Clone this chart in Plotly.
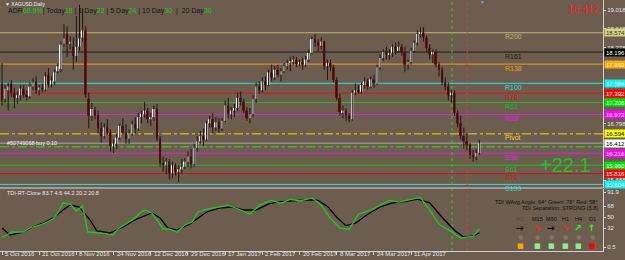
import plotly.graph_objects as go

# ---------------- data ----------------
opens = [17.58,17.28,17.45,17.58,17.40,17.30,17.35,17.48,17.36,17.33,17.52,17.62,17.45,17.50,17.46,17.74,17.56,17.62,17.82,17.86,
         18.36,18.55,18.36,18.30,18.12,18.30,18.48,18.62,17.28,16.95,17.05,16.96,16.70,16.55,16.72,16.62,16.35,16.40,16.52,16.75,
         16.62,16.50,16.60,16.78,16.70,16.92,16.98,17.05,16.88,16.92,17.08,16.50,16.02,15.98,16.05,15.82,15.98,15.85,15.90,15.95,
         16.05,16.15,16.00,16.32,16.45,16.55,16.48,16.80,16.88,16.72,16.82,16.70,16.85,17.15,16.98,17.05,17.10,17.30,17.22,17.05,
         16.90,16.98,17.28,17.52,17.45,17.62,17.55,17.80,17.70,17.85,17.75,17.82,17.92,17.98,18.02,18.05,17.96,18.00,17.95,18.05,
         18.18,18.45,18.38,18.32,18.40,17.92,17.98,17.90,17.65,17.30,17.02,17.05,16.95,16.88,17.40,17.45,17.42,17.55,17.62,17.52,
         17.66,17.58,17.90,18.08,18.20,18.15,18.18,18.30,18.22,18.30,18.18,17.95,18.00,18.22,18.38,18.55,18.58,18.48,18.28,18.15,
         18.20,17.95,17.85,17.60,17.52,17.35,17.40,17.00,16.80,16.55,16.45,16.38,16.18,16.15,16.22]
highs = [17.98,17.55,17.60,17.65,17.50,17.42,17.55,17.55,17.45,17.60,17.68,17.72,17.55,17.58,17.80,17.88,17.72,17.86,17.98,18.40,
         18.75,18.70,18.50,18.48,18.90,19.12,19.05,18.70,17.40,17.20,17.12,17.05,16.82,16.80,16.88,16.68,16.48,16.60,16.80,16.90,
         16.78,16.68,16.85,16.92,17.00,17.05,17.22,17.10,17.00,17.15,17.18,16.55,16.15,16.12,16.10,16.05,16.02,15.98,16.10,16.12,
         16.25,16.30,16.40,16.55,16.65,16.70,16.85,16.95,17.00,16.92,16.90,16.90,17.25,17.30,17.12,17.18,17.40,17.42,17.28,17.12,
         17.10,17.35,17.60,17.62,17.70,17.72,17.85,17.95,17.92,17.95,17.88,17.98,18.05,18.10,18.12,18.10,18.05,18.08,18.12,18.25,
         18.50,18.55,18.45,18.48,18.42,18.05,18.05,17.95,17.70,17.38,17.15,17.10,17.00,17.45,17.58,17.55,17.60,17.70,17.68,17.72,
         17.75,17.95,18.15,18.25,18.30,18.25,18.35,18.38,18.40,18.35,18.30,18.05,18.28,18.42,18.62,18.68,18.68,18.52,18.35,18.25,
         18.25,18.00,17.90,17.70,17.60,17.45,17.45,17.05,16.95,16.72,16.60,16.42,16.28,16.30,16.48]
lows = [17.15,17.20,17.05,17.32,17.10,17.18,17.25,17.30,17.25,17.28,17.45,17.38,17.35,17.40,17.42,17.50,17.50,17.55,17.78,17.80,
        18.30,18.10,18.25,17.85,18.00,18.22,18.40,17.30,16.70,16.85,16.88,16.60,16.42,16.50,16.58,16.25,16.22,16.30,16.48,16.58,
        16.40,16.40,16.55,16.60,16.65,16.80,16.90,16.80,16.75,16.85,16.45,15.95,15.85,15.80,15.70,15.72,15.78,15.65,15.82,15.90,
        15.95,15.92,15.95,16.25,16.40,16.35,16.45,16.72,16.60,16.65,16.62,16.65,16.82,16.90,16.88,16.92,17.05,17.15,17.00,16.85,
        16.80,16.92,17.20,17.38,17.40,17.45,17.52,17.62,17.65,17.70,17.62,17.78,17.85,17.82,17.95,17.90,17.92,17.85,17.90,18.00,
        18.15,18.30,18.20,18.25,17.85,17.65,17.82,17.60,17.25,16.95,16.90,16.85,16.82,16.85,17.35,17.38,17.38,17.48,17.45,17.48,
        17.50,17.55,17.85,18.02,18.05,18.05,18.10,18.15,18.18,18.12,17.80,17.85,17.95,18.18,18.32,18.48,18.40,18.20,18.05,17.98,
        17.90,17.72,17.55,17.45,17.25,17.20,16.95,16.72,16.48,16.30,16.28,16.10,16.05,16.08,16.18]
closes = [17.25,17.48,17.52,17.40,17.30,17.35,17.48,17.36,17.33,17.52,17.60,17.45,17.50,17.46,17.72,17.56,17.64,17.80,17.92,18.34,
          18.46,18.35,18.40,18.12,18.30,18.46,18.62,17.36,16.95,17.08,16.96,16.70,16.55,16.72,16.62,16.35,16.40,16.52,16.75,16.62,
          16.50,16.60,16.78,16.70,16.92,16.98,17.05,16.88,16.92,17.08,16.50,16.02,15.98,16.05,15.82,15.98,15.85,15.90,15.95,16.05,
          16.15,16.00,16.32,16.45,16.55,16.48,16.80,16.88,16.72,16.82,16.70,16.85,17.15,16.98,17.05,17.10,17.30,17.22,17.05,16.90,
          16.98,17.28,17.52,17.45,17.62,17.55,17.80,17.70,17.85,17.75,17.82,17.92,17.98,18.02,18.05,17.96,18.00,17.95,18.05,18.18,
          18.45,18.38,18.32,18.40,17.92,17.98,17.90,17.65,17.30,17.02,17.05,16.95,16.88,17.40,17.45,17.42,17.55,17.62,17.52,17.66,
          17.58,17.90,18.08,18.20,18.15,18.18,18.30,18.22,18.30,18.18,17.95,18.00,18.22,18.38,18.55,18.58,18.48,18.28,18.15,18.20,
          17.95,17.85,17.60,17.52,17.35,17.40,17.00,16.80,16.55,16.45,16.38,16.18,16.15,16.22,16.41]

date_tick_bars = [0, 12, 24, 36, 48, 60, 72, 84, 96, 108, 120, 132]
date_tick_labels = ["5 Oct 2016", "21 Oct 2016", "8 Nov 2016", "24 Nov 2016", "12 Dec 2016", "29 Dec 2016",
                    "17 Jan 2017", "2 Feb 2017", "20 Feb 2017", "8 Mar 2017", "24 Mar 2017", "11 Apr 2017"]

price_ticks = [19.018, 18.648, 18.278, 16.798, 15.688]

level_names = ["R200", "R161", "R138", "R100", "R78", "R61", "R38", "Pivot", "S38", "S61", "S78", "S100"]
level_values = [18.574, 18.196, 17.960, 17.584, 17.392, 17.206, 16.972, 16.594, 16.216, 15.980, 15.816, 15.604]
level_colors = ["#c2b86a", "#1e1a14", "#f0a020", "#30dcdc", "#d81818", "#20c020", "#e020e0", "#e8d820",
                "#e020e0", "#20c020", "#c81818", "#30dcdc"]
level_box_colors = ["#d6cf86", "#000000", "#ffa500", "#10f0f0", "#ff0000", "#00e000", "#ff00ff", "#ffff00",
                    "#ff00ff", "#00e000", "#ff0000", "#10f0f0"]
level_box_text = ["#333333", "#ffffff", "#ffffff", "#ffffff", "#ffffff", "#ffffff", "#ffffff", "#000000",
                  "#ffffff", "#ffffff", "#ffffff", "#ffffff"]

bid_price = 16.412
order_price = 16.34
order_label = "#50749068 buy 0.10"
marker_bars = [145.2, 150.1]

tdi_green_bars = [0, 1.6, 3.2, 6.8, 9, 12.3, 14.5, 16.5, 18, 19.7, 22, 24, 26, 27.7, 31.6, 35.8, 37.4, 40.6, 42.9, 44.5,
                  46, 48.4, 50.3, 52, 54, 56.5, 59, 61.3, 63.2, 66.5, 70, 73, 77, 80, 83, 87, 90, 93, 96, 100,
                  103, 106, 109, 112, 115, 119, 122, 125, 128, 132, 135, 138, 141, 145, 148, 150, 152, 154]
tdi_green_vals = [17.1, 20.4, 25.4, 25.4, 32.1, 37.1, 42.0, 47.0, 57.0, 73.6, 72.0, 60.3, 68.6, 25.4, 23.8, 20.4, 30.4, 40.4, 48.7, 57.0,
                  62.0, 57.0, 42.0, 30.4, 30.4, 25.4, 37.1, 42.0, 58.7, 63.7, 67, 70, 62, 55, 70, 78, 73, 80, 77, 82,
                  70, 48, 32, 30, 55, 62, 70, 78, 75, 80, 83, 62, 38, 26, 15, 17, 18, 31]
tdi_black_bars = [0, 2.6, 6.8, 10, 13.2, 16.5, 19.7, 22, 25, 28.4, 30.6, 34.8, 39, 43.5, 48.4, 51, 53.5, 56.5, 60.6, 66,
                  70, 74, 78, 82, 86, 90, 94, 98, 102, 105, 108, 111, 114, 118, 122, 126, 130, 134, 138, 142, 146, 149, 152, 154]
tdi_black_vals = [32.1, 20.4, 25.4, 33.7, 40.4, 48.7, 62.0, 70.3, 67.0, 45.4, 27.1, 23.8, 33.7, 47.0, 57.0, 48.7, 32.1, 28.7, 38.7, 58.7,
                  65, 67, 62, 62, 72, 76, 77, 79, 78, 68, 50, 36, 40, 55, 67, 74, 76, 80, 74, 50, 28, 17, 19, 24]
tdi_ticks = [91.9, 68, 50, 32, 0.5]
tdi_ticklabels = ["91.9", "68", "50", "32", "0.5"]

tf_names = ["W1", "M15", "M30", "H1", "H4", "D1"]
tf_arrows = ["\u2192", "\u2198", "\u2192", "\u2198", "\u2197", "\u2191"]
tf_arrow_colors = ["#000000", "#ff2020", "#000000", "#ff2020", "#20ff20", "#20ff20"]
tf_square_colors = ["#ffa500", "#90ee90", "#90ee90", "#90ee90", "#90ee90", "#ff0000"]

# ---------------- geometry helpers ----------------
W, H = 625, 260
ML, MR, MT, MB = 0, 22, 0, 9
PW, PH = W - ML - MR, H - MT - MB  # plot area 603 x 251


def px(x):
    return (x - ML) / PW


def py(y):
    return (PH - (y - MT)) / PH


BG = "#6c5d4f"
TXT = "#e6e6e6"
FONT = "Liberation Sans, Arial, sans-serif"

fig = go.Figure()

# wicks
wx, wy = [], []
for i in range(len(closes)):
    wx += [i, i, None]
    wy += [lows[i], highs[i], None]
fig.add_trace(go.Scatter(x=wx, y=wy, mode="lines", line=dict(color="#1c1712", width=1),
                         hoverinfo="skip", xaxis="x", yaxis="y"))

# bodies
base = [min(o, c) for o, c in zip(opens, closes)]
height = [max(abs(c - o), 0.012) for o, c in zip(opens, closes)]
colors = ["#f4f4f4" if c >= o else "#760808" for o, c in zip(opens, closes)]
fig.add_trace(go.Bar(x=list(range(len(closes))), y=height, base=base, width=0.62,
                     marker=dict(color=colors, line=dict(width=0)), xaxis="x", yaxis="y"))

# TDI lines
fig.add_trace(go.Scatter(x=tdi_black_bars, y=tdi_black_vals, mode="lines",
                         line=dict(color="#000000", width=1.3), xaxis="x2", yaxis="y2"))
fig.add_trace(go.Scatter(x=tdi_green_bars, y=tdi_green_vals, mode="lines",
                         line=dict(color="#22c822", width=1.3), xaxis="x2", yaxis="y2"))

shapes = []
annotations = []

# level lines + labels + right boxes
for name, val, col, bcol, tcol in zip(level_names, level_values, level_colors, level_box_colors, level_box_text):
    dash = "dashdot" if name == "Pivot" else "solid"
    shapes.append(dict(type="line", xref="paper", x0=0, x1=1, yref="y", y0=val, y1=val,
                       line=dict(color=col, width=1, dash=dash), layer="below"))
    annotations.append(dict(x=px(503), y=val, xref="paper", yref="y", text=name, showarrow=False,
                            xanchor="left", yanchor="middle", yshift=-4,
                            font=dict(family=FONT, size=7, color=col)))
    annotations.append(dict(x=px(604), y=val, xref="paper", yref="y", text="%.3f" % val, showarrow=False,
                            xanchor="left", yanchor="middle", bgcolor=bcol, borderpad=0, width=21, height=7,
                            font=dict(family=FONT, size=6, color=tcol)))

# bid line and order line
shapes.append(dict(type="line", xref="paper", x0=0, x1=1, yref="y", y0=bid_price, y1=bid_price,
                   line=dict(color="#a8a8a8", width=1), layer="below"))
shapes.append(dict(type="line", xref="paper", x0=0, x1=1, yref="y", y0=order_price, y1=order_price,
                   line=dict(color="#28e028", width=1, dash="dashdot"), layer="below"))
annotations.append(dict(x=px(604), y=bid_price, xref="paper", yref="y", text="%.3f" % bid_price, showarrow=False,
                        xanchor="left", yanchor="middle", bgcolor="#ffffff", borderpad=0, width=21, height=7,
                        font=dict(family=FONT, size=6, color="#000000")))
annotations.append(dict(x=px(5), y=order_price, xref="paper", yref="y", text=order_label, showarrow=False,
                        xanchor="left", yanchor="bottom", yshift=-1,
                        font=dict(family=FONT, size=5.5, color="#eeeeee")))

# vertical dotted markers
for b, col in zip(marker_bars, ["#40c040", "#d04040"]):
    shapes.append(dict(type="line", xref="x", x0=b, x1=b, yref="paper", y0=0, y1=1,
                       line=dict(color=col, width=1, dash="dot"), layer="below"))

# panel separator
shapes.append(dict(type="line", xref="paper", x0=0, x1=1, yref="paper", y0=py(188), y1=py(188),
                   line=dict(color="#d8d8d8", width=1)))

# date labels
for b, lab in zip(date_tick_bars, date_tick_labels):
    annotations.append(dict(x=b, y=py(254), xref="x", yref="paper", text=lab, showarrow=False,
                            xanchor="left", yanchor="middle", xshift=1,
                            font=dict(family=FONT, size=6, color=TXT)))

# header texts
annotations.append(dict(x=px(3), y=py(4), xref="paper", yref="paper", text="\u25bc XAGUSD,Daily", showarrow=False,
                        xanchor="left", yanchor="middle", font=dict(family=FONT, size=5, color="#f0f0f0")))
G = "#10d010"
adr = ("ADR<span style='color:%s'>60.9%%</span>| Today<span style='color:%s'>18</span> | 1 Day<span style='color:%s'>22</span>"
       " | 5 Day<span style='color:%s'>24</span> | 10 Day<span style='color:%s'>30</span>  |  20 Day<span style='color:%s'>30</span>"
       % (G, G, G, G, G, G))
annotations.append(dict(x=px(6), y=py(11), xref="paper", yref="paper", text=adr, showarrow=False,
                        xanchor="left", yanchor="middle", font=dict(family=FONT, size=7, color="#141414")))
annotations.append(dict(x=px(601), y=py(10), xref="paper", yref="paper", text="%.3f" % bid_price, showarrow=False,
                        xanchor="right", yanchor="middle", font=dict(family=FONT, size=10, color="#ff1a1a")))
annotations.append(dict(x=px(482), y=py(2), xref="paper", yref="paper", text="\u25bc", showarrow=False,
                        xanchor="center", yanchor="middle", font=dict(family=FONT, size=5, color="#7aa0e0")))
annotations.append(dict(x=px(593), y=py(165), xref="paper", yref="paper", text="+22.1", showarrow=False,
                        xanchor="right", yanchor="middle",
                        font=dict(family="Liberation Sans Narrow, " + FONT, size=20, color="#22c022")))

# indicator texts
annotations.append(dict(x=px(5), y=py(193), xref="paper", yref="paper",
                        text="TDI-RT-Clone 83.7 4.6 44.2 20.2 20.8", showarrow=False,
                        xanchor="left", yanchor="middle", font=dict(family=FONT, size=5.5, color="#eaeaea")))
annotations.append(dict(x=px(600), y=py(202), xref="paper", yref="paper",
                        text="TDI WAvg Angle: 64\u00b0 Green: 78\u00b0 Red: 58\u00b0", showarrow=False,
                        xanchor="right", yanchor="middle", font=dict(family=FONT, size=5.5, color="#101010")))
annotations.append(dict(x=px(600), y=py(208), xref="paper", yref="paper",
                        text="TDI Separation: STRONG [5.8]", showarrow=False,
                        xanchor="right", yanchor="middle", font=dict(family=FONT, size=5.5, color="#101010")))
tf_x = [520, 537, 551, 565, 578, 592]
for k in range(len(tf_names)):
    annotations.append(dict(x=px(tf_x[k]), y=py(219), xref="paper", yref="paper", text=tf_names[k], showarrow=False,
                            xanchor="center", yanchor="middle",
                            font=dict(family=FONT, size=5.5, color="#5a4c40" if k == 0 else "#101010")))
    annotations.append(dict(x=px(tf_x[k]), y=py(228), xref="paper", yref="paper", text="<b>%s</b>" % tf_arrows[k],
                            showarrow=False, xanchor="center", yanchor="middle",
                            font=dict(family="DejaVu Sans", size=9, color=tf_arrow_colors[k])))
    annotations.append(dict(x=px(tf_x[k]), y=py(236), xref="paper", yref="paper", text="\u25cf",
                            showarrow=False, xanchor="center", yanchor="middle",
                            font=dict(family="DejaVu Sans", size=6, color="#827466")))
    annotations.append(dict(x=px(tf_x[k]), y=py(246), xref="paper", yref="paper", text="\u25a0",
                            showarrow=False, xanchor="center", yanchor="middle",
                            font=dict(family="DejaVu Sans", size=7, color=tf_square_colors[k])))

# ranges derived from pixel calibration
x_lo, x_hi = -0.645, 193.9
main_lo, main_hi = 15.534, 19.215
ind_lo, ind_hi = -6.15, 96.9

fig.update_layout(
    width=W, height=H, margin=dict(l=ML, r=MR, t=MT, b=MB),
    paper_bgcolor=BG, plot_bgcolor=BG, showlegend=False, barmode="overlay",
    font=dict(family=FONT, color=TXT),
    xaxis=dict(domain=[0, 1], range=[x_lo, x_hi], anchor="y", showticklabels=False, showgrid=False,
               zeroline=False, showline=False, ticks=""),
    yaxis=dict(domain=[py(188), 1], range=[main_lo, main_hi], side="right", anchor="x",
               tickvals=price_ticks, ticktext=["%.3f" % v for v in price_ticks],
               tickfont=dict(family=FONT, size=6, color=TXT), ticks="outside", ticklen=2, tickcolor="#d0d0d0",
               showgrid=False, zeroline=False, showline=True, linecolor="#d0d0d0", linewidth=1),
    xaxis2=dict(domain=[0, 1], range=[x_lo, x_hi], matches="x", anchor="y2", showticklabels=False,
                showgrid=False, zeroline=False, showline=True, linecolor="#d0d0d0", linewidth=1,
                tickvals=date_tick_bars, ticks="outside", ticklen=3, tickcolor="#d0d0d0"),
    yaxis2=dict(domain=[0, py(189)], range=[ind_lo, ind_hi], side="right", anchor="x2",
                tickvals=tdi_ticks, ticktext=tdi_ticklabels,
                tickfont=dict(family=FONT, size=6, color=TXT), ticks="outside", ticklen=2, tickcolor="#d0d0d0",
                showgrid=False, zeroline=False, showline=True, linecolor="#d0d0d0", linewidth=1),
    shapes=shapes, annotations=annotations,
)

fig.write_html("out.html")
